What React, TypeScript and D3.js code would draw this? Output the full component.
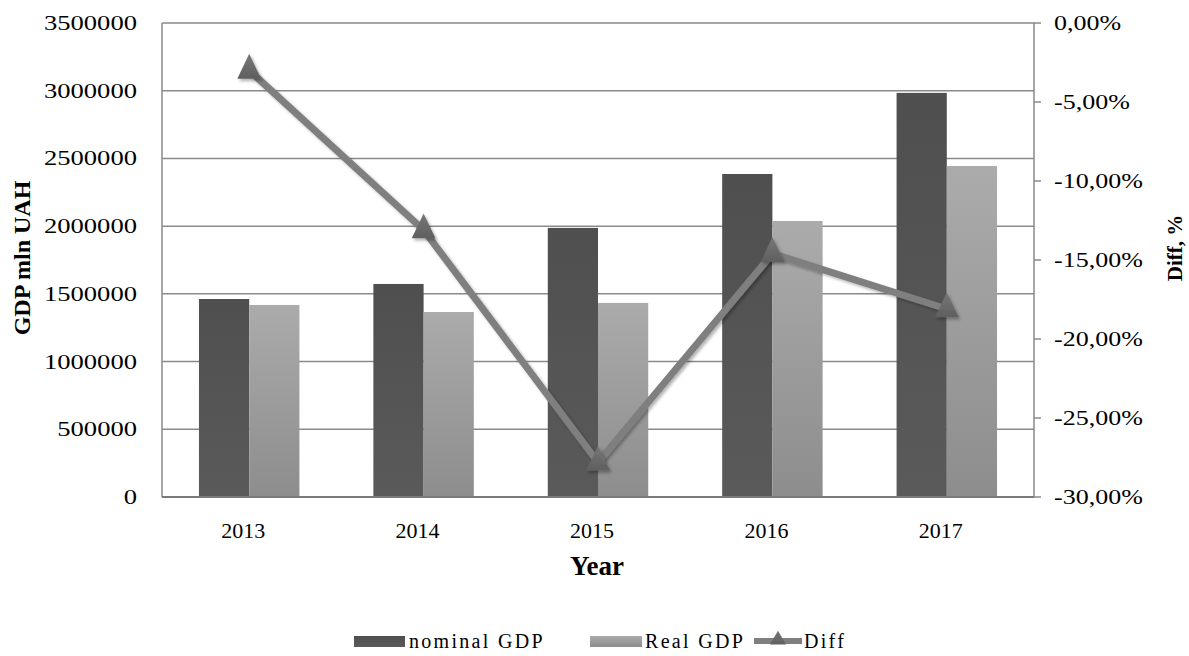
import React from "react";
import * as d3 from "d3";

const years = ["2013", "2014", "2015", "2016", "2017"];
const nominalGDP = [1462000, 1573000, 1987000, 2385000, 2984000];
const realGDP = [1418000, 1366000, 1433000, 2038000, 2444000];
const diffPct = [-3.0, -13.1, -27.8, -14.6, -18.1];
const leftTicks = [0, 500000, 1000000, 1500000, 2000000, 2500000, 3000000, 3500000];
const rightTicks = [0, -5, -10, -15, -20, -25, -30];
const seriesNames = ["nominal GDP", "Real GDP", "Diff"];
const leftTitle = "GDP mln UAH";
const rightTitle = "Diff, %";
const xTitle = "Year";

const W = 1189;
const H = 656;
const M = { left: 162, right: 1034, top: 23, bottom: 497 };
const SERIF = "'Liberation Serif', 'Times New Roman', serif";

export default function App() {
  const x = d3.scaleBand<string>().domain(years).range([M.left, M.right]).paddingInner(0.424).paddingOuter(0.212);
  const xs = d3.scaleBand<string>().domain(["nominal", "real"]).range([0, x.bandwidth()]);
  const yL = d3.scaleLinear().domain([0, 3500000]).range([M.bottom, M.top]);
  const yR = d3.scaleLinear().domain([-30, 0]).range([M.bottom, M.top]);
  const fmtPct = (v: number) => d3.format(".2f")(v).replace("\u2212", "-").replace(".", ",") + "%";
  const cx = (y: string) => (x(y) as number) + x.bandwidth() / 2;

  const line = d3
    .line<number>()
    .x((_, i) => cx(years[i]))
    .y((d) => yR(d));

  const tri = d3.symbol().type(d3.symbolTriangle).size(270)() as string;

  return (
    <svg width={W} height={H} style={{ position: "absolute", left: 0, top: 0, background: "#fff" }}>
      <defs>
        <linearGradient id="gNom" x1="0" y1="0" x2="0" y2="1">
          <stop offset="0" stopColor="#4f4f4f" />
          <stop offset="1" stopColor="#5a5a5a" />
        </linearGradient>
        <linearGradient id="gReal" x1="0" y1="0" x2="0" y2="1">
          <stop offset="0" stopColor="#ababab" />
          <stop offset="1" stopColor="#8d8d8d" />
        </linearGradient>
        <linearGradient id="gTri" x1="0" y1="0" x2="0" y2="1">
          <stop offset="0" stopColor="#777" />
          <stop offset="1" stopColor="#5f5f5f" />
        </linearGradient>
        <filter id="sh" x="-30%" y="-30%" width="160%" height="160%">
          <feDropShadow dx="2" dy="2" stdDeviation="1.5" floodColor="#000" floodOpacity="0.3" />
        </filter>
      </defs>

      {/* gridlines */}
      {leftTicks.map((t) => (
        <line key={"g" + t} x1={M.left} x2={M.right} y1={yL(t)} y2={yL(t)} stroke="#8a8a8a" strokeWidth={1.5} />
      ))}
      <line x1={M.left} x2={M.left} y1={M.top} y2={M.bottom} stroke="#8a8a8a" strokeWidth={1.5} />
      <line x1={M.right} x2={M.right} y1={M.top} y2={M.bottom} stroke="#8a8a8a" strokeWidth={1.5} />
      {rightTicks.map((t) => (
        <line key={"rt" + t} x1={M.right} x2={M.right + 7} y1={yR(t)} y2={yR(t)} stroke="#8a8a8a" strokeWidth={1.5} />
      ))}

      {/* bars */}
      {years.map((yr, i) => (
        <g key={"b" + yr}>
          <rect
            x={(x(yr) as number) + (xs("nominal") as number)}
            y={yL(nominalGDP[i])}
            width={xs.bandwidth()}
            height={yL(0) - yL(nominalGDP[i])}
            fill="url(#gNom)"
          />
          <rect
            x={(x(yr) as number) + (xs("real") as number)}
            y={yL(realGDP[i])}
            width={xs.bandwidth()}
            height={yL(0) - yL(realGDP[i])}
            fill="url(#gReal)"
          />
        </g>
      ))}
      <line x1={M.left} x2={M.right} y1={M.bottom} y2={M.bottom} stroke="#7a7a7a" strokeWidth={2} />

      {/* diff line */}
      <path d={line(diffPct) as string} fill="none" stroke="#7f7f7f" strokeWidth={7} strokeLinejoin="round" filter="url(#sh)" />
      {diffPct.map((d, i) => (
        <path key={"m" + i} d={tri} transform={`translate(${cx(years[i])},${yR(d)}) scale(0.95,1.15)`} fill="url(#gTri)" filter="url(#sh)" />
      ))}

      {/* left tick labels */}
      {leftTicks.map((t) => (
        <text
          key={"lt" + t}
          transform={`translate(137,${yL(t)}) scale(1.33,1)`}
          textAnchor="end"
          dy="0.35em"
          fontFamily={SERIF}
          fontSize={20}
          fill="#000"
        >
          {String(t)}
        </text>
      ))}
      {/* right tick labels */}
      {rightTicks.map((t) => (
        <text
          key={"rl" + t}
          transform={`translate(1054,${yR(t)}) scale(1.3,1)`}
          textAnchor="start"
          dy="0.35em"
          fontFamily={SERIF}
          fontSize={20}
          fill="#000"
        >
          {fmtPct(t)}
        </text>
      ))}
      {/* x tick labels */}
      {years.map((yr) => (
        <text key={"xl" + yr} x={cx(yr) - 6} y={538} textAnchor="middle" fontFamily={SERIF} fontSize={22} fill="#000">
          {yr}
        </text>
      ))}

      {/* axis titles */}
      <text x={597} y={575} textAnchor="middle" fontFamily={SERIF} fontSize={27} fontWeight="bold" fill="#000">
        {xTitle}
      </text>
      <text transform="translate(30,258) rotate(-90)" textAnchor="middle" fontFamily={SERIF} fontSize={24} fontWeight="bold" fill="#000">
        {leftTitle}
      </text>
      <text transform="translate(1182,248) rotate(-90)" textAnchor="middle" fontFamily={SERIF} fontSize={21} fontWeight="bold" fill="#000">
        {rightTitle}
      </text>

      {/* legend */}
      <g fontFamily={SERIF} fontSize={20} fill="#000">
        <rect x={354} y={636} width={51} height={11} fill="url(#gNom)" />
        <text x={409} y={648} letterSpacing={2.3}>{seriesNames[0]}</text>
        <rect x={590} y={636} width={52} height={11} fill="url(#gReal)" />
        <text x={645} y={648} letterSpacing={2.3}>{seriesNames[1]}</text>
        <line x1={754} x2={802} y1={641} y2={641} stroke="#7f7f7f" strokeWidth={6} />
        <path d={d3.symbol().type(d3.symbolTriangle).size(110)() as string} transform="translate(778,640)" fill="url(#gTri)" />
        <text x={804} y={648} letterSpacing={2.3}>{seriesNames[2]}</text>
      </g>
    </svg>
  );
}
